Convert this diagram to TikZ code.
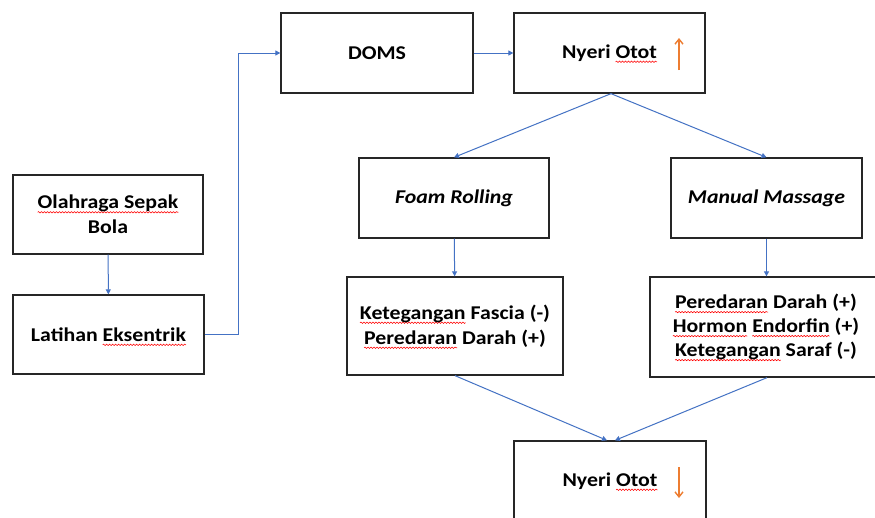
\documentclass[tikz,border=0pt]{standalone}
\usepackage{fontspec}
\setmainfont{Carlito}[FakeStretch=1.12]
\usetikzlibrary{arrows.meta,decorations.pathmorphing,calc}
\definecolor{lineblue}{HTML}{4472C4}
\definecolor{arroworange}{HTML}{ED7D31}
\tikzset{
  box/.style={draw=black!85,line width=1.3pt,rectangle,inner sep=0pt,align=center,
    font=\fontsize{19.5}{25}\selectfont\bfseries},
  conn/.style={draw=lineblue,line width=1pt,-{Triangle[length=5pt,width=5pt]}},
  updown/.style={draw=arroworange,line width=1.4pt,-{Straight Barb[length=5pt,width=8pt]}},
  sqline/.style={draw=red,line width=0.55pt,decorate,
    decoration={snake,amplitude=0.7pt,segment length=3pt}}
}
\newcommand\sqw[1]{\setbox0=\hbox{#1}\tikz[overlay,baseline=0pt]{\draw[sqline] (0pt,-3.5pt) -- (\wd0,-3.5pt);}\box0{}}
\begin{document}
\begin{tikzpicture}[x=1pt,y=-1pt]
\clip (0,0) rectangle (875,517);
\fill[white] (0,0) rectangle (875,517);
\node[box,minimum width=190pt,minimum height=79pt] (ola) at (108,214.5) {\sqw{Olahraga Sepak}\\Bola};
\node[box,minimum width=191pt,minimum height=79pt] (lat) at (108.5,334.5) {Latihan \sqw{Eksentrik}};
\node[box,minimum width=192pt,minimum height=80pt] (doms) at (377,53) {DOMS};
\node[box,minimum width=191pt,minimum height=80pt] (nyu) at (609.5,53) {Nyeri \sqw{Otot}};
\node[box,minimum width=190pt,minimum height=80pt,font=\fontsize{19.5}{25}\selectfont\bfseries\itshape] (foam) at (454,198) {Foam Rolling};
\node[box,minimum width=191pt,minimum height=80pt,font=\fontsize{19.5}{25}\selectfont\bfseries\itshape] (man) at (766.5,198) {Manual Massage};
\node[box,minimum width=216pt,minimum height=98pt] (ket) at (455,326) {\sqw{Ketegangan} Fascia (-)\\\sqw{Peredaran} Darah (+)};
\node[box,minimum width=232pt,minimum height=100pt,font=\fontsize{19.5}{24}\selectfont\bfseries] (per) at (766,327) {\sqw{Peredaran} Darah (+)\\\sqw{Hormon} \sqw{Endorfin} (+)\\\sqw{Ketegangan} Saraf (-)};
\node[box,minimum width=192pt,minimum height=80pt] (nyd) at (610,481) {Nyeri \sqw{Otot}};
\coordinate (elbow) at (238,53);
\draw[conn] (ola) -- (lat);
\draw[conn] (lat.east) -| (elbow) -- (doms.west);
\draw[conn] (doms) -- (nyu);
\draw[conn] ($(nyu.south)+(1.5,0)$) -- (foam.north);
\draw[conn] ($(nyu.south)+(1.5,0)$) -- (man.north);
\draw[conn] (foam) -- (ket);
\draw[conn] (man.south) -- (man.south |- per.north);
\draw[conn] (ket.south) -- ($(nyd.north)+(-3,0)$);
\draw[conn] ($(per.south)+(1,0)$) -- ($(nyd.north)+(5,0)$);
\draw[updown] ($(nyu.center)+(69.5,17)$) -- ($(nyu.center)+(69.5,-15)$);
\draw[updown] ($(nyd.center)+(69,-14)$) -- ($(nyd.center)+(69,17)$);
\end{tikzpicture}
\end{document}
